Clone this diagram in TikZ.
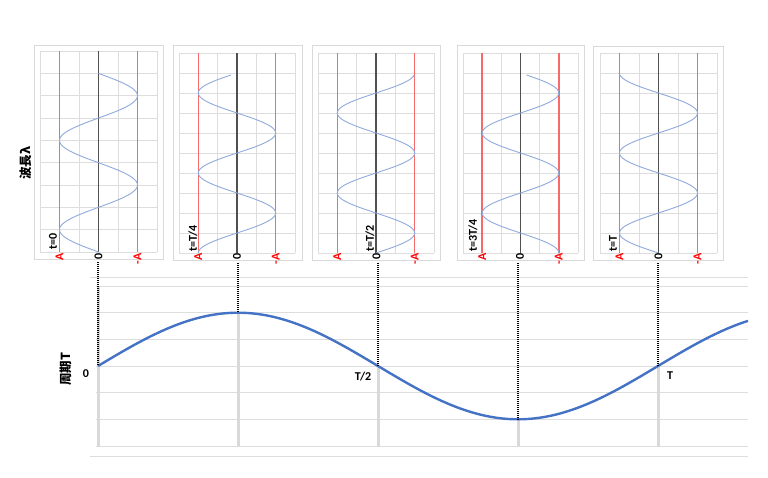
\documentclass[tikz,border=0pt]{standalone}
\usepackage{fontspec}
\setmainfont{Carlito}
\newfontfamily\cjk{Noto Sans CJK JP}
\definecolor{framec}{HTML}{D9D9D9}
\definecolor{gridc}{HTML}{DDDDDD}
\definecolor{redl}{HTML}{F76A6A}
\definecolor{redt}{HTML}{FF0000}
\definecolor{centc}{HTML}{505050}
\definecolor{wavec}{HTML}{8FAADC}
\definecolor{curvec}{HTML}{4472C4}
\tikzset{
  pframe/.style={draw=framec, line width=0.9pt},
  pgrid/.style={draw=gridc, line width=0.8pt},
  aline/.style={draw=redl, line width=1.6pt},
  cline/.style={draw=centc, line width=1.3pt},
  thinwave/.style={draw=wavec, line width=0.9pt},
  bigcurve/.style={draw=curvec, line width=2.4pt},
  dropl/.style={draw=framec, line width=3pt},
  dotl/.style={draw=black, line width=1.5pt, dash pattern=on 1pt off 1pt},
  lblfont/.style={font=\bfseries\fontsize{12}{13}\selectfont},
  albl/.style={lblfont, rotate=90, anchor=east, inner sep=0.5pt},
  tlbl/.style={lblfont, rotate=90, anchor=west, inner sep=0pt},
  clbl/.style={lblfont, inner sep=0pt},
  jlbl/.style={font=\cjk\bfseries\fontsize{12.5}{13}\selectfont, rotate=90, inner sep=0pt},
}
% frame, grid, red lines and centre line of one small panel
\newcommand\panelgrid[9]{%
  \draw[pframe] (#1,#3) rectangle (#2,#4);
  \foreach \k in {0,...,6}
    \draw[pgrid] ({#5+\k*(#6-#5)/6},#7) -- ({#5+\k*(#6-#5)/6},#8);
  \foreach \k in {0,...,#9}
    \draw[pgrid] (#5,{#7+\k*(#8-#7)/#9}) -- (#6,{#7+\k*(#8-#7)/#9});
  \draw[aline] ({#5+(#6-#5)/6},#7) -- ({#5+(#6-#5)/6},#8);
  \draw[aline] ({#5+5*(#6-#5)/6},#7) -- ({#5+5*(#6-#5)/6},#8);
  \draw[cline] ({#5+(#6-#5)/2},#7) -- ({#5+(#6-#5)/2},#8);
}
\begin{document}
\begin{tikzpicture}[x=1pt,y=-1pt]
\useasboundingbox (0,0) rectangle (768,477);
\fill[white] (0,0) rectangle (768,477);

% ---------- small panels ----------
\panelgrid{34}{163}{45}{259}{40}{157}{51}{252}{9}
\panelgrid{173}{302}{45}{260}{179}{295}{53}{253}{10}
\panelgrid{312}{440}{45}{260}{318}{434}{53}{253}{10}
\panelgrid{457}{584}{45}{260}{463}{578}{53}{253}{10}
\panelgrid{593}{723}{46}{260}{600}{717}{53}{253}{10}

\draw[thinwave] plot[domain=0:178.6, samples=140, smooth, variable=\t] ({98.5-39*sin(4.0314*\t)},{252-\t});
\draw[thinwave] plot[domain=0:178, samples=140, smooth, variable=\t] ({237-38.7*cos(4.5*\t)},{253-\t});
\draw[thinwave] plot[domain=0:178, samples=140, smooth, variable=\t] ({376+38.7*sin(4.5*\t)},{253-\t});
\draw[thinwave] plot[domain=0:178, samples=140, smooth, variable=\t] ({520.5+38.3*cos(4.5*\t)},{253-\t});
\draw[thinwave] plot[domain=0:178, samples=140, smooth, variable=\t] ({658.5-39*sin(4.5*\t)},{253-\t});

% panel labels
\node[tlbl] (t1) at (53,250) {t=0};
\node[tlbl] (t2) at (193,252) {t=T/4};
\node[tlbl] (t3) at (370,252) {t=T/2};
\node[tlbl] (t4) at (473,252) {t=3T/4};
\node[tlbl] (t5) at (613,252) {t=T};

% axis labels under each panel
\node[albl, text=redt] (a1) at (59.5,253) {A};
\node[albl] (z1) at (98.5,253) {0};
\node[albl, text=redt] (m1) at (137.5,253) {-A};
\node[albl, text=redt] (a2) at (198.3,253) {A};
\node[albl] (z2) at (237,253) {0};
\node[albl, text=redt] (m2) at (275.7,253) {-A};
\node[albl, text=redt] (a3) at (337.3,253) {A};
\node[albl] (z3) at (376.5,253) {0};
\node[albl, text=redt] (m3) at (414.7,253) {-A};
\node[albl, text=redt] (a4) at (482.2,253) {A};
\node[albl] (z4) at (520,253) {0};
\node[albl, text=redt] (m4) at (558.8,253) {-A};
\node[albl, text=redt] (a5) at (619.5,253) {A};
\node[albl] (z5) at (658.5,253) {0};
\node[albl, text=redt] (m5) at (697.5,253) {-A};

\node[jlbl] (lam) at (26,163) {波長λ};

% ---------- bottom chart ----------
\draw[pgrid] (90,277) -- (748,277);
\draw[pgrid] (90,456) -- (748,456);
\foreach \k in {0,...,6}
  \draw[pgrid] (96,{286+\k*160/6}) -- (748,{286+\k*160/6});

\coordinate (p1) at (98,366);
\coordinate (p2) at (238,312.7);
\coordinate (p3) at (378,366);
\coordinate (p4) at (518,419.3);
\coordinate (p5) at (658,366);
\coordinate (b1) at (98,446);
\coordinate (b2) at (238,446);
\coordinate (b3) at (378,446);
\coordinate (b4) at (518,446);
\coordinate (b5) at (658,446);
\coordinate (g1) at (98,286);

\draw[dropl] (g1) -- (b1);
\draw[dropl] (p2) -- (b2);
\draw[dropl] (p3) -- (b3);
\draw[dropl] (p4) -- (b4);
\draw[dropl] (p5) -- (b5);

\draw[bigcurve] plot[domain=98:748, samples=160, smooth, variable=\x] (\x,{366-53.3*sin(0.642857*(\x-98))});

\coordinate (d1) at (98,262);
\coordinate (d2) at (238,263);
\coordinate (d3) at (378,263);
\coordinate (d4) at (518,263);
\coordinate (d5) at (658,263);
\draw[dotl] (d1) -- (p1);
\draw[dotl] (d2) -- (p2);
\draw[dotl] (d3) -- (p3);
\draw[dotl] (d4) -- (p4);
\draw[dotl] (d5) -- (p5);

\node[clbl] (o) at (86,374) {0};
\node[clbl] (half) at (363,377) {T/2};
\node[clbl] (full) at (670,376) {T};
\node[jlbl] (per) at (66,369) {周期T};
\end{tikzpicture}
\end{document}
